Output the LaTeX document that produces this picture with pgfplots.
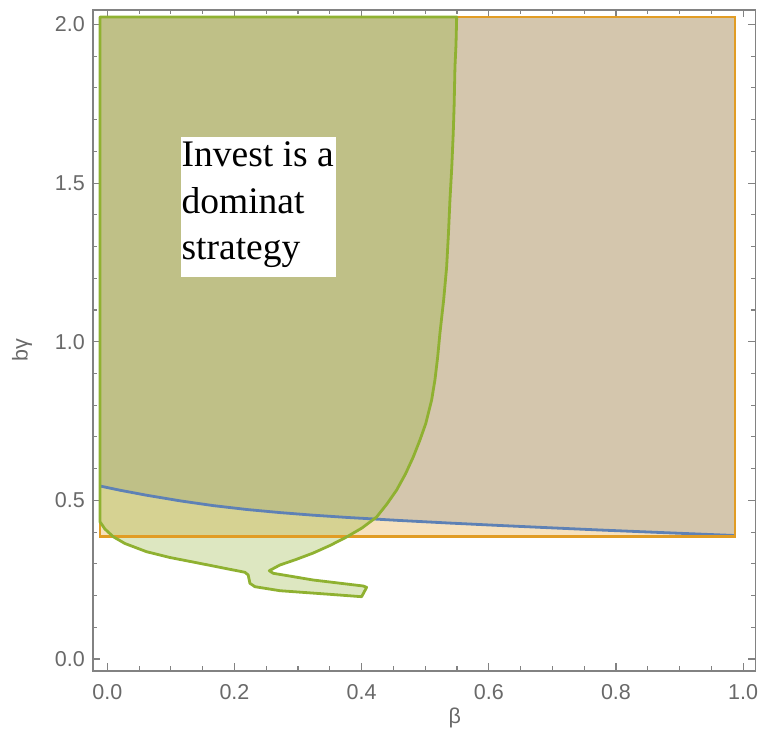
\documentclass[border=0pt]{standalone}
\usepackage{fontspec}
\setmainfont{Liberation Sans}
\newfontfamily\timesf{Liberation Serif}
\usepackage{pgfplots}
\pgfplotsset{compat=1.18}
\definecolor{mblue}{HTML}{5E81B5}
\definecolor{morange}{HTML}{E19C24}
\definecolor{mgreen}{HTML}{8FB131}
\definecolor{framegray}{RGB}{130,130,130}
\definecolor{labgray}{RGB}{105,105,105}
\pgfplotstableread{
x y
-0.0116 2.0237
-0.0116 0.5453
0.0199 0.5320
0.0618 0.5162
0.1142 0.4986
0.1666 0.4835
0.2191 0.4713
0.2715 0.4615
0.3239 0.4533
0.3764 0.4463
0.4603 0.4366
0.5392 0.4284
0.6178 0.4208
0.6965 0.4136
0.7749 0.4066
0.8583 0.3997
0.9322 0.3937
0.987 0.3893
0.987 2.0237
}\blueregion
\pgfplotstableread{
x y
-0.0116 0.5453
0.0199 0.5320
0.0618 0.5162
0.1142 0.4986
0.1666 0.4835
0.2191 0.4713
0.2715 0.4615
0.3239 0.4533
0.3764 0.4463
0.4603 0.4366
0.5392 0.4284
0.6178 0.4208
0.6965 0.4136
0.7749 0.4066
0.8583 0.3997
0.9322 0.3937
0.987 0.3893
}\bluecurve
\pgfplotstableread{
x y
-0.0116 2.0237
-0.0116 0.3855
0.987 0.3855
0.987 2.0237
}\orangeregion
\pgfplotstableread{
x y
-0.0116 2.0237
0.5495 2.0237
0.5484 1.9351
0.5468 1.8670
0.5455 1.7455
0.5441 1.6580
0.5418 1.5508
0.5389 1.4468
0.5366 1.3428
0.5337 1.2356
0.5290 1.1316
0.5232 1.0276
0.5196 0.9519
0.5153 0.8794
0.5101 0.8164
0.5010 0.7429
0.4917 0.6903
0.4812 0.6367
0.4689 0.5831
0.4551 0.5327
0.4398 0.4886
0.4236 0.4476
0.4005 0.4129
0.3764 0.3846
0.3502 0.3578
0.3239 0.3341
0.2967 0.3136
0.2715 0.2963
0.2547 0.2783
0.2610 0.2701
0.3239 0.2490
0.4025 0.2301
0.4079 0.2260
0.4000 0.1964
0.3502 0.2039
0.2715 0.2153
0.2322 0.2279
0.2243 0.2386
0.2216 0.2648
0.2165 0.2733
0.1929 0.2827
0.1405 0.3035
0.0985 0.3199
0.0618 0.3382
0.0277 0.3641
0.0093 0.3855
-0.0038 0.4098
-0.0116 0.4328
}\greenregion
\begin{document}
\begin{tikzpicture}
\useasboundingbox (-93pt,-81pt) rectangle (667pt,671pt);
\begin{axis}[
  scale only axis,
  width=662.7pt, height=661pt,
  xmin=-0.0225, xmax=1.0198,
  ymin=-0.0378, ymax=2.0457,
  clip=false,
  axis line style={framegray, line width=1.4pt},
  tick style={framegray, line width=1.1pt},
  tick align=inside,
  major tick length=7.5pt,
  minor tick length=4.5pt,
  xtick={0,0.2,0.4,0.6,0.8,1.0},
  minor xtick={0.05,0.1,0.15,0.25,0.3,0.35,0.45,0.5,0.55,0.65,0.7,0.75,0.85,0.9,0.95},
  ytick={0,0.5,1.0,1.5,2.0},
  minor ytick={0.1,0.2,0.3,0.4,0.6,0.7,0.8,0.9,1.1,1.2,1.3,1.4,1.6,1.7,1.8,1.9},
  xticklabels={0.0,0.2,0.4,0.6,0.8,1.0},
  yticklabels={0.0,0.5,1.0,1.5,2.0},
  xticklabel style={font=\fontsize{21.5}{21.5}\selectfont, text=labgray, inner sep=0pt, anchor=north, yshift=-13pt},
  yticklabel style={font=\fontsize{21.5}{21.5}\selectfont, text=labgray, inner sep=0pt, anchor=east, xshift=-8pt},
  /pgf/number format/assume math mode=true,
]
% fills: blue, orange, green (opacity 0.3)
\addplot[fill=mblue, fill opacity=0.3, draw=none] table {\blueregion} -- cycle;
\addplot[fill=morange, fill opacity=0.3, draw=none] table {\orangeregion} -- cycle;
\addplot[fill=mgreen, fill opacity=0.3, draw=none] table {\greenregion} -- cycle;
% boundaries
\addplot[mblue, line width=2.8pt] table {\bluecurve};
\addplot[morange, line width=2.6pt] table {\orangeregion} -- cycle;
\addplot[mgreen, line width=2.8pt, line join=round] table {\greenregion} -- cycle;
% annotation box
\fill[white] (axis cs:0.1153,1.6464) rectangle (axis cs:0.3591,1.2031);
\node[anchor=base west, inner sep=0pt, font=\timesf\fontsize{37.5}{37.5}\selectfont] at (axis cs:0.1166,1.5518) {Invest is a};
\node[anchor=base west, inner sep=0pt, font=\timesf\fontsize{37.5}{37.5}\selectfont] at (axis cs:0.1166,1.4049) {dominat};
\node[anchor=base west, inner sep=0pt, font=\timesf\fontsize{37.5}{37.5}\selectfont] at (axis cs:0.1166,1.2577) {strategy};
% axis labels
\path (rel axis cs:0.546,0) ++(0pt,-47pt) node[text=labgray, font=\fontsize{21.5}{21.5}\selectfont] {β};
\path (rel axis cs:0,0.486) ++(-71pt,0pt) node[text=labgray, font=\fontsize{21.5}{21.5}\selectfont, rotate=90] {bγ};
\end{axis}
\end{tikzpicture}
\end{document}
